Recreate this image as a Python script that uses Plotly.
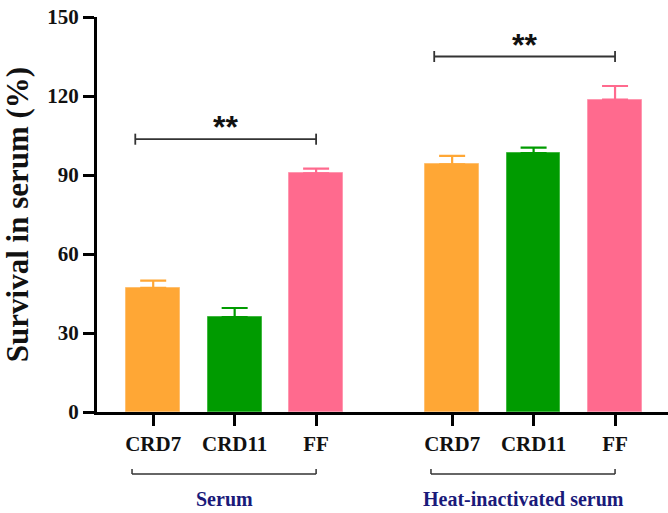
import plotly.graph_objects as go

# ---- data ----
strains = ["CRD7", "CRD11", "FF", "CRD7", "CRD11", "FF"]
positions = [0, 1, 2, 3.67, 4.67, 5.67]
survival = [47.1, 36.0, 90.6, 94.0, 98.3, 118.6]
sem = [2.8, 3.5, 1.8, 3.3, 2.1, 5.2]
colors = ["#FFA735", "#009B00", "#FF6A8E", "#FFA735", "#009B00", "#FF6A8E"]
edge_colors = ["#FFC070", "#40B840", "#FF98B0", "#FFC070", "#40B840", "#FF98B0"]
groups = ["Serum", "Heat-inactivated serum"]
group_members = [(0, 2), (3, 5)]
sig_pairs = [(0, 2), (3, 5)]
sig_heights = [103.6, 135.0]
sig_labels = ["**", "**"]

fig = go.Figure()
for i in range(len(strains)):
    fig.add_trace(go.Bar(
        x=[positions[i]], y=[survival[i]], width=0.66,
        marker=dict(color=colors[i], line=dict(color=edge_colors[i], width=1)),
        error_y=dict(type="data", array=[sem[i]], arrayminus=[0], symmetric=False,
                     color=colors[i], thickness=2.2, width=13),
        showlegend=False, hoverinfo="skip",
    ))

shapes = []
annotations = []
for (a, b), h, lab in zip(sig_pairs, sig_heights, sig_labels):
    x0 = positions[a] - 0.22
    x1 = positions[b]
    shapes.append(dict(type="line", xref="x", yref="y", x0=x0, x1=x1, y0=h, y1=h,
                       line=dict(color="#333333", width=1.8)))
    for xx in (x0, x1):
        shapes.append(dict(type="line", xref="x", yref="y", x0=xx, x1=xx, y0=h - 2.1, y1=h + 2.1,
                           line=dict(color="#333333", width=1.8)))
    annotations.append(dict(x=(x0 + x1) / 2, y=h + 4.5, xref="x", yref="y",
                            text=lab, showarrow=False, yanchor="middle",
                            font=dict(family="Liberation Sans", size=32, color="#111111", weight="bold")))

for (a, b), g in zip(group_members, groups):
    x0 = positions[a] - 0.26
    x1 = positions[b]
    yb = -0.157
    shapes.append(dict(type="line", xref="x", yref="paper", x0=x0, x1=x1, y0=yb, y1=yb,
                       line=dict(color="#333333", width=1.5)))
    for xx in (x0, x1):
        shapes.append(dict(type="line", xref="x", yref="paper", x0=xx, x1=xx, y0=yb, y1=yb + 0.013,
                           line=dict(color="#333333", width=1.5)))
    annotations.append(dict(x=(x0 + x1) / 2, y=-0.254, xref="x", yref="paper", text=g,
                            showarrow=False, yanchor="bottom",
                            font=dict(family="Liberation Serif", size=20, color="#1A1A7A", weight="bold")))

fig.update_layout(
    width=668, height=513,
    margin=dict(l=97, r=0, t=17, b=101),
    plot_bgcolor="white", paper_bgcolor="white",
    bargap=0,
    shapes=shapes, annotations=annotations,
    xaxis=dict(range=[-0.69, 6.32], tickvals=positions, ticktext=strains,
               showline=True, linecolor="black", linewidth=3, showgrid=False, zeroline=False,
               ticks="outside", ticklen=11, tickwidth=3, tickcolor="black",
               tickfont=dict(family="Liberation Serif", size=21, color="#111111", weight="bold")),
    yaxis=dict(range=[0, 150], tickvals=[0, 30, 60, 90, 120, 150],
               showline=True, linecolor="black", linewidth=3, showgrid=False, zeroline=False,
               ticks="outside", ticklen=11, tickwidth=3, tickcolor="black",
               tickfont=dict(family="Liberation Serif", size=21, color="#111111", weight="bold"),
               title=dict(text="Survival in serum (%)", standoff=10,
                          font=dict(family="Liberation Serif", size=31, color="#111111", weight="bold"))),
)

fig.write_html("out.html")
